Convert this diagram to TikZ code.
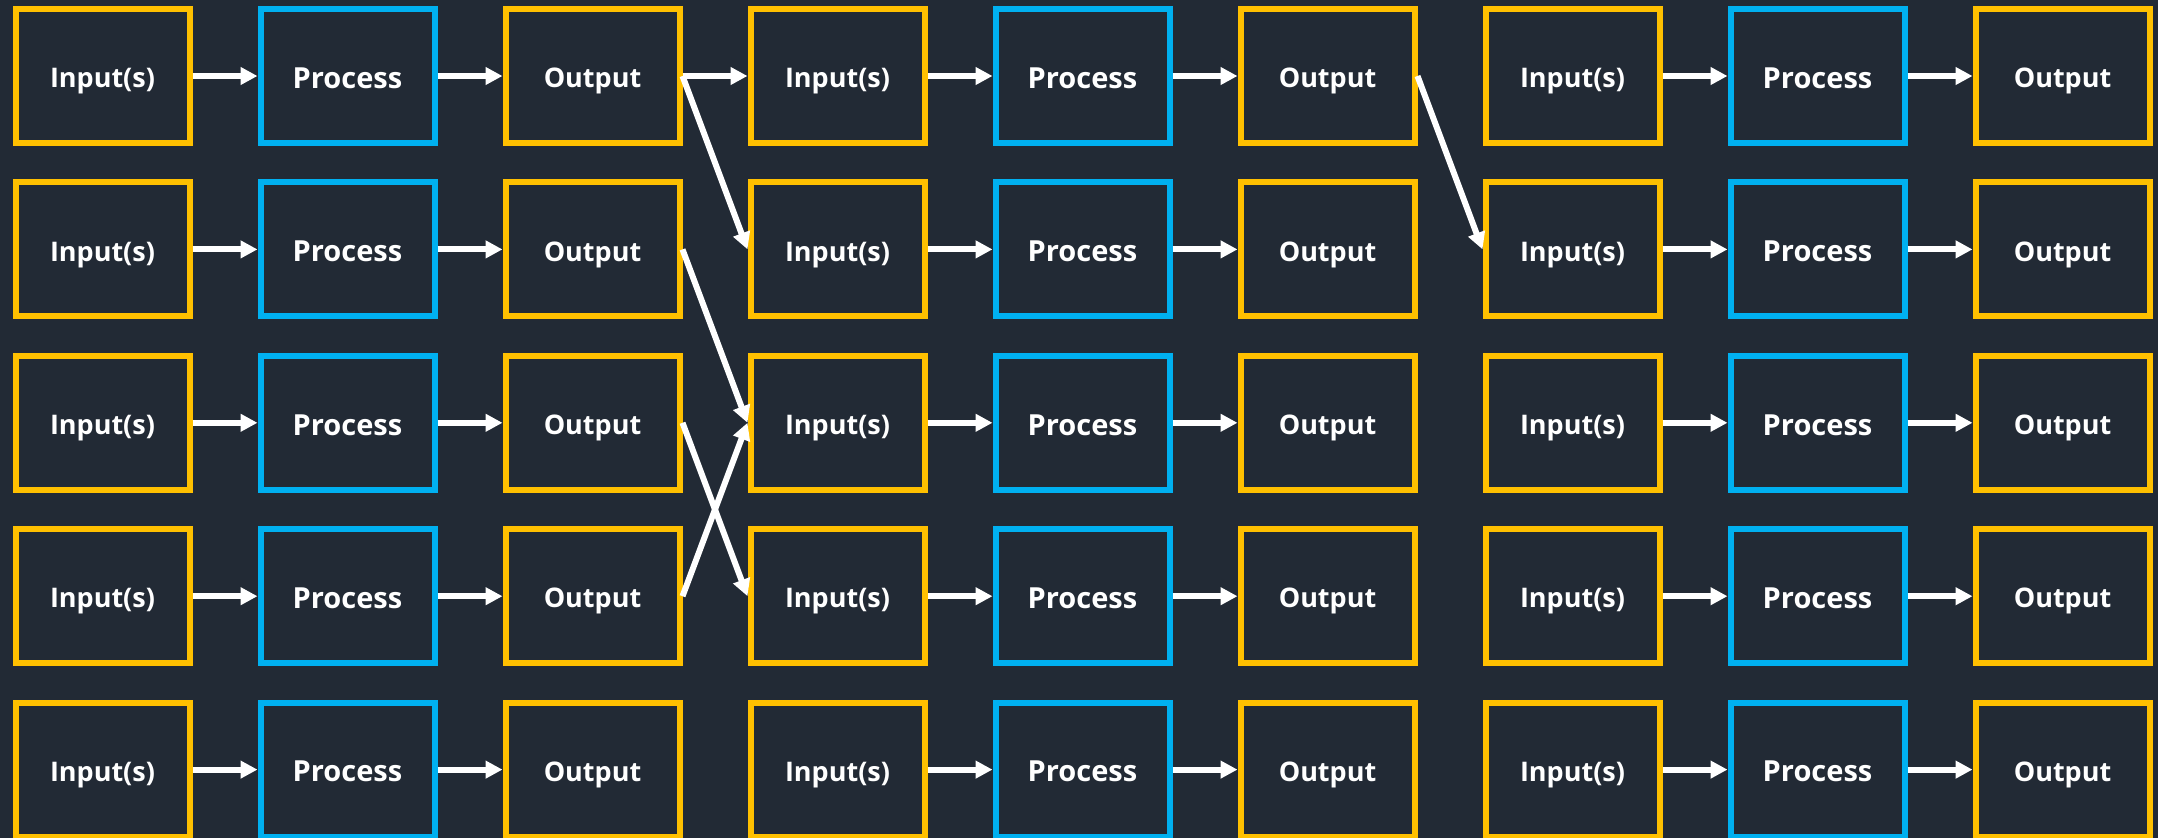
\documentclass[tikz,border=0pt]{standalone}
\usepackage{fontspec}
\setmainfont{Open Sans}
\usetikzlibrary{arrows.meta}
\definecolor{bg}{HTML}{222A35}
\definecolor{ybox}{HTML}{FFC000}
\definecolor{bbox}{HTML}{00B0F0}
\tikzset{
  blk/.style={draw, line width=6pt, fill=bg, minimum width=174pt, minimum height=134pt,
    inner sep=0pt, text=white, text depth=0pt},
  ybk/.style={blk, draw=ybox, font=\fontsize{27}{30}\selectfont\bfseries, text height=23.3pt},
  bbk/.style={blk, draw=bbox, font=\fontsize{29}{32}\selectfont\bfseries, text height=24.7pt},
  conn/.style={draw=white, line width=6pt, -{Triangle[length=17pt,width=17pt]}}
}
\begin{document}
\begin{tikzpicture}[x=1pt,y=-1pt]
\fill[bg] (0,0) rectangle (2158,838);
\useasboundingbox (0,0) rectangle (2158,838);
\foreach \r in {0,...,4}{
  \foreach \c in {0,...,8}{
    \pgfmathtruncatemacro{\k}{mod(\c,3)}
    \pgfmathsetmacro{\xx}{102.5+245*\c}
    \pgfmathsetmacro{\yy}{76+173.4*\r}
    \ifnum\k=0
      \node[ybk] (n-\r-\c) at (\xx,\yy) {Input(s)};
    \fi
    \ifnum\k=1
      \node[bbk] (n-\r-\c) at (\xx,\yy) {Process};
    \fi
    \ifnum\k=2
      \node[ybk] (n-\r-\c) at (\xx,\yy) {Output};
    \fi
  }
}
\foreach \r in {0,...,4}{
  \foreach \g in {0,1,2}{
    \pgfmathtruncatemacro{\a}{3*\g}
    \pgfmathtruncatemacro{\b}{3*\g+1}
    \pgfmathtruncatemacro{\d}{3*\g+2}
    \draw[conn] (n-\r-\a.east) -- (n-\r-\b.west);
    \draw[conn] (n-\r-\b.east) -- (n-\r-\d.west);
  }
}
\draw[conn] (n-0-2.east) -- (n-0-3.west);
\draw[conn] (n-0-2.east) -- (n-1-3.west);
\draw[conn] (n-1-2.east) -- (n-2-3.west);
\draw[conn] (n-2-2.east) -- (n-3-3.west);
\draw[conn] (n-3-2.east) -- (n-2-3.west);
\draw[conn] (n-0-5.east) -- (n-1-6.west);
\end{tikzpicture}
\end{document}
